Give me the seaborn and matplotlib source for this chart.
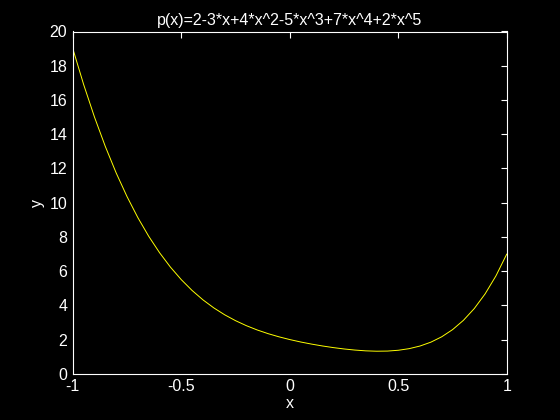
import matplotlib
matplotlib.use("Agg")
import matplotlib.pyplot as plt
import seaborn as sns
import pandas as pd

x_vals = [-1.00, -0.95, -0.90, -0.85, -0.80, -0.75, -0.70, -0.65, -0.60, -0.55,
          -0.50, -0.45, -0.40, -0.35, -0.30, -0.25, -0.20, -0.15, -0.10, -0.05,
          0.00, 0.05, 0.10, 0.15, 0.20, 0.25, 0.30, 0.35, 0.40, 0.45,
          0.50, 0.55, 0.60, 0.65, 0.70, 0.75, 0.80, 0.85, 0.90, 0.95, 1.00]
y_vals = [19.000, 16.901, 14.997, 13.277, 11.732, 10.350, 9.120, 8.031, 7.072, 6.232,
          5.500, 4.866, 4.319, 3.849, 3.447, 3.104, 2.811, 2.560, 2.346, 2.161,
          2.000, 1.859, 1.736, 1.627, 1.532, 1.451, 1.387, 1.341, 1.320, 1.328,
          1.375, 1.469, 1.623, 1.848, 2.162, 2.580, 3.123, 3.811, 4.669, 5.722, 7.000]
x_ticks = [-1, -0.5, 0, 0.5, 1]
x_ticklabels = ["-1", "-0.5", "0", "0.5", "1"]
y_ticks = [0, 2, 4, 6, 8, 10, 12, 14, 16, 18, 20]
title_text = "p(x)=2-3*x+4*x^2-5*x^3+7*x^4+2*x^5"

sns.set_style("dark")
plt.rcParams['font.family'] = ['Liberation Sans', 'DejaVu Sans']

df = pd.DataFrame({"x": x_vals, "y": y_vals})

fig = plt.figure(figsize=(5.6, 4.2), dpi=100, facecolor="black")
ax = fig.add_axes([0.13, 0.11, 0.775, 0.815])
ax.set_facecolor("black")
sns.lineplot(data=df, x="x", y="y", ax=ax, color=(1, 1, 0), linewidth=0.7)

ax.set_xlim(-1, 1)
ax.set_ylim(0, 20)
ax.set_xticks(x_ticks)
ax.set_xticklabels(x_ticklabels)
ax.set_yticks(y_ticks)
ax.grid(False)
for s in ax.spines.values():
    s.set_visible(True)
    s.set_color("white")
    s.set_linewidth(0.8)
ax.tick_params(direction="in", length=4, width=0.8, colors="white",
               top=True, right=True, labelsize=11.5, pad=4)
ax.set_xlabel("x", color="white", fontsize=11.5, labelpad=1)
ax.set_ylabel("y", color="white", fontsize=11.5, labelpad=3)
ax.set_title(title_text, color="white", fontsize=11.5, pad=5)

fig.savefig("out.png", dpi=100, facecolor="black")
